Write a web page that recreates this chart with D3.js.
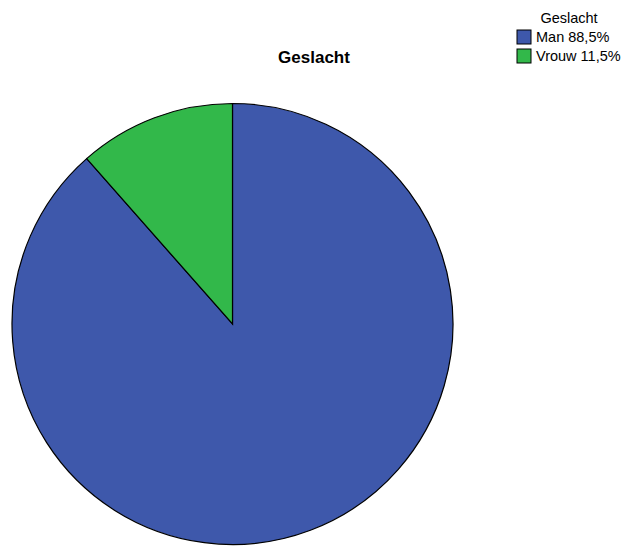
<!DOCTYPE html>
<html lang="en">
    <head>
        <meta charset="utf-8">
        <title>Geslacht</title>
        <script src="https://d3js.org/d3.v7.min.js"></script>
        <style type="text/css">
          body { margin: 0; background: #fff; }
          svg { width: 626px; height: 546px; display: block; }
          .title { font-size: 17px; font-weight: bold; font-family: "Liberation Sans", Arial, sans-serif; }
          .legend { font-size: 14.5px; font-family: "Liberation Sans", Arial, sans-serif; }
        </style>
    </head>
    <body>
        <svg></svg>
        <script type="text/javascript">

        // data
        const categories = ["Man", "Vrouw"];
        const percents = [88.5, 11.5];
        const labels = ["Man 88,5%", "Vrouw 11,5%"];
        const colors = ["#3e58ab", "#32b84a"];

        const svg = d3.select("svg");
        const cx = 232.5, cy = 324, r = 220.5;

        const pie = d3.pie().sort(null).value(d => d.value);
        const arc = d3.arc().innerRadius(0).outerRadius(r);
        const color = d3.scaleOrdinal().domain(categories).range(colors);

        const data = categories.map((c, i) => ({ name: c, value: percents[i] }));

        svg.append("g")
           .attr("transform", "translate(" + cx + "," + cy + ")")
           .selectAll("path")
           .data(pie(data))
           .join("path")
           .attr("d", arc)
           .attr("fill", d => color(d.data.name))
           .attr("stroke", "#000")
           .attr("stroke-width", 1.2);

        // title
        svg.append("text")
           .attr("x", 314)
           .attr("y", 63)
           .attr("text-anchor", "middle")
           .attr("class", "title")
           .text("Geslacht");

        // legend
        const legend = svg.append("g").attr("class", "legend");
        legend.append("text")
              .attr("x", 569)
              .attr("y", 23)
              .attr("text-anchor", "middle")
              .text("Geslacht");

        const item = legend.selectAll("g.item")
              .data(categories)
              .join("g")
              .attr("class", "item")
              .attr("transform", (d, i) => "translate(517," + (30 + i * 19) + ")");

        item.append("rect")
            .attr("width", 14)
            .attr("height", 14)
            .attr("fill", d => color(d))
            .attr("stroke", "#000")
            .attr("stroke-width", 1);

        item.append("text")
            .attr("x", 19)
            .attr("y", 12)
            .text((d, i) => labels[i]);

        </script>
    </body>
</html>
